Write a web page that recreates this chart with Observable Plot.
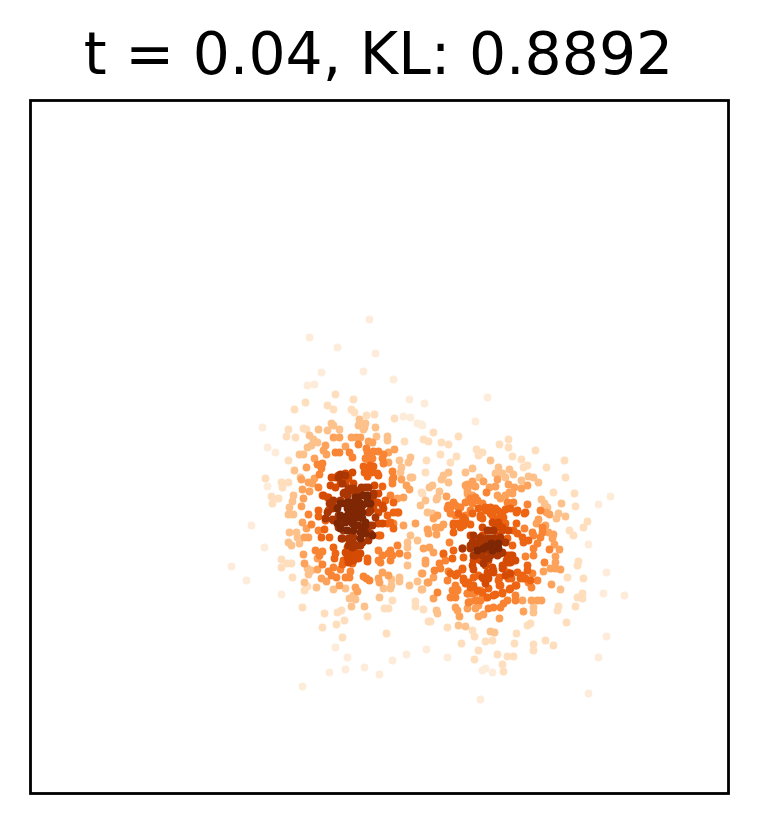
<!DOCTYPE html>
<html><head><meta charset="utf-8">
<script src="https://cdn.jsdelivr.net/npm/d3@7"></script>
<script src="https://cdn.jsdelivr.net/npm/@observablehq/plot@0.6"></script>
<style>html,body{margin:0;padding:0;background:#fff}</style>
</head><body><div id="chart"></div>
<script>
const titleText = "t = 0.04, KL: 0.8892";
const xDomain = [30, 728];
const yDomain = [793, 100];
const levelValues = [0.07, 0.17, 0.3, 0.42, 0.53, 0.64, 0.75, 0.87, 1];
const level1 = [[369,319],[309,337],[337,347],[375,353],[321,372],[363,371],[393,379],[307,385],[314,384],[409,399],[424,403],[403,416],[410,417],[417,423],[421,424],[262,427],[267,447],[275,452],[267,486],[251,525],[264,547],[231,566],[246,580],[281,594],[335,647],[347,657],[329,672],[345,669],[364,667],[379,674],[392,660],[406,654],[426,649],[302,686],[487,397],[475,421],[422,425],[610,496],[598,504],[588,544],[603,593],[624,595],[606,572],[606,636],[598,657],[588,693],[480,699],[447,657],[482,670],[485,668],[492,672]];
const level2 = [[335,394],[353,399],[305,402],[327,405],[333,409],[351,409],[354,412],[294,409],[394,418],[366,415],[374,414],[288,429],[303,428],[306,429],[286,436],[295,437],[404,441],[288,460],[426,460],[423,439],[428,441],[288,482],[281,482],[282,487],[265,478],[271,496],[278,498],[425,472],[421,492],[272,503],[281,559],[287,563],[291,563],[281,567],[292,577],[307,586],[304,590],[302,607],[415,601],[415,606],[423,609],[384,608],[388,608],[367,616],[344,620],[336,624],[337,612],[341,610],[324,613],[322,627],[342,637],[386,633],[428,621],[392,600],[433,432],[441,442],[448,444],[458,436],[499,444],[508,439],[508,447],[476,449],[482,452],[478,455],[535,450],[512,456],[521,459],[440,454],[456,456],[450,462],[564,460],[527,465],[523,467],[546,467],[565,477],[553,492],[574,493],[575,506],[587,521],[583,527],[569,530],[573,535],[422,493],[430,621],[566,622],[575,606],[577,597],[582,593],[582,598],[583,578],[578,561],[577,565],[557,610],[558,606],[545,640],[553,645],[533,644],[533,650],[514,643],[497,654],[507,656],[513,656],[502,664],[503,671],[492,640],[485,641],[461,643],[478,650],[474,659],[472,630],[474,636],[516,633],[527,625],[530,623],[567,577],[447,627]];
const level3 = [[359,419],[318,429],[327,430],[331,423],[333,425],[339,429],[309,435],[313,439],[317,442],[311,445],[307,447],[299,454],[303,454],[294,470],[300,477],[293,495],[358,425],[363,429],[365,423],[364,427],[375,427],[376,436],[387,436],[387,440],[399,460],[410,457],[408,462],[401,467],[400,472],[410,477],[412,477],[292,501],[289,507],[288,514],[293,514],[289,532],[296,532],[297,537],[288,542],[291,545],[299,543],[307,568],[311,570],[308,574],[304,582],[316,587],[333,589],[345,588],[349,598],[355,599],[353,595],[351,606],[364,606],[379,597],[383,588],[391,579],[391,585],[390,588],[399,577],[399,581],[409,585],[421,589],[417,581],[421,573],[407,565],[410,535],[407,542],[407,547],[417,540],[490,460],[498,467],[509,469],[472,468],[465,472],[448,472],[443,475],[441,479],[495,473],[502,473],[513,474],[505,477],[528,476],[533,477],[538,482],[521,480],[479,477],[448,482],[432,485],[429,487],[439,491],[437,497],[436,499],[425,500],[561,503],[541,499],[544,503],[547,507],[420,505],[432,513],[427,512],[558,513],[556,518],[565,516],[436,610],[437,613],[458,625],[465,626],[490,631],[494,632],[533,607],[533,612],[560,589],[422,589]];
const level4 = [[339,437],[333,437],[325,445],[323,450],[326,454],[314,458],[306,467],[301,479],[302,489],[308,482],[312,483],[314,478],[309,491],[303,498],[345,446],[351,437],[356,437],[360,437],[368,441],[372,442],[388,452],[394,449],[388,462],[401,479],[406,485],[409,489],[397,498],[403,497],[301,506],[302,522],[306,528],[304,537],[308,537],[303,554],[317,558],[317,569],[304,563],[321,578],[326,581],[339,585],[355,587],[357,591],[379,582],[378,578],[382,572],[388,575],[428,582],[407,555],[403,525],[415,523],[497,479],[483,481],[472,481],[475,486],[467,484],[495,486],[489,487],[508,484],[514,487],[527,485],[521,488],[467,490],[468,495],[509,492],[446,496],[497,495],[500,498],[505,495],[512,493],[433,518],[437,515],[549,514],[546,512],[538,519],[536,523],[545,525],[548,532],[553,534],[552,538],[443,524],[440,527],[427,529],[435,527],[428,533],[436,534],[554,544],[559,549],[423,548],[429,547],[433,552],[425,560],[425,563],[433,577],[427,582],[422,573],[433,598],[551,584],[560,569],[555,568],[550,568],[543,571],[555,556],[555,562],[522,600],[531,600],[537,600],[541,600],[523,611],[499,618],[483,614],[478,616],[477,600],[470,601],[478,605],[475,608],[467,608],[455,607],[457,610],[459,616],[465,485],[473,485],[467,493],[472,495]];
const level5 = [[318,487],[317,464],[322,463],[321,468],[319,474],[335,452],[339,452],[349,452],[352,457],[358,444],[366,448],[367,452],[373,451],[378,451],[383,454],[368,459],[372,458],[382,458],[383,463],[392,471],[393,477],[392,479],[392,483],[390,495],[308,514],[311,524],[318,530],[315,550],[322,551],[319,555],[322,564],[328,571],[333,567],[331,575],[336,577],[345,577],[349,577],[350,571],[340,569],[363,576],[366,578],[369,580],[378,550],[382,555],[378,560],[380,562],[390,550],[388,553],[397,545],[392,555],[390,560],[399,553],[393,523],[486,492],[470,498],[475,497],[472,503],[465,502],[453,502],[448,505],[458,507],[447,508],[450,513],[455,515],[507,502],[513,502],[527,504],[540,510],[470,510],[465,515],[462,518],[524,528],[532,532],[542,527],[542,532],[540,537],[533,535],[537,543],[449,542],[549,549],[533,548],[544,562],[533,555],[532,573],[537,580],[531,587],[528,582],[523,578],[515,595],[515,600],[507,600],[503,603],[500,607],[493,607],[488,608],[482,597],[480,590],[475,592],[467,593],[457,589],[453,595],[443,554],[445,560],[439,563],[434,570],[440,568],[448,571],[447,580],[437,592],[525,556],[365,458],[370,457],[455,585],[452,590],[457,590],[455,597],[450,597],[467,593],[472,593],[475,600],[468,602],[480,600],[485,597],[460,507],[450,507],[455,505],[477,500],[482,503],[472,502]];
const level6 = [[363,466],[368,467],[373,466],[364,472],[371,472],[367,476],[378,475],[382,486],[322,495],[327,497],[385,500],[393,502],[397,512],[390,522],[393,528],[378,535],[380,535],[387,523],[387,515],[393,512],[398,512],[318,510],[318,516],[325,520],[324,529],[321,537],[329,537],[333,547],[335,553],[334,558],[343,560],[342,564],[348,557],[355,557],[352,563],[367,558],[367,561],[485,507],[490,513],[497,510],[480,515],[482,518],[500,513],[505,509],[510,508],[516,512],[524,513],[516,523],[453,525],[458,523],[463,525],[453,532],[470,524],[505,523],[507,538],[513,530],[517,533],[522,537],[523,542],[528,540],[512,545],[453,550],[462,548],[463,557],[452,558],[443,553],[457,573],[462,569],[463,578],[468,582],[470,587],[488,588],[493,570],[499,577],[499,585],[509,589],[516,585],[502,592],[495,594],[487,597],[503,567],[507,572],[511,578],[517,572],[520,578],[527,565],[527,570],[473,577],[478,575],[370,465],[377,473],[372,470],[450,573],[455,575],[463,580],[465,583],[473,585],[477,590],[482,592],[462,568],[522,575],[525,578],[530,580],[498,580],[500,585],[508,578],[493,595],[502,593],[510,588],[515,585],[458,513],[463,517],[453,523],[460,527],[465,520],[472,513],[478,508],[485,510],[490,507],[495,508],[502,512],[517,510],[525,512],[492,515],[498,518],[503,517],[480,517]];
const level7 = [[352,472],[348,478],[331,477],[335,477],[353,483],[330,485],[335,487],[328,510],[330,503],[378,523],[383,508],[382,523],[374,485],[378,493],[345,552],[350,552],[355,552],[360,553],[347,547],[482,527],[492,522],[498,522],[495,528],[490,530],[502,527],[470,535],[473,538],[482,535],[497,535],[488,573],[472,565],[473,569],[483,578],[485,583],[506,560],[510,555],[515,560],[510,562],[358,490],[323,495],[328,497],[338,475],[345,473],[340,483],[345,483],[342,478],[372,498],[377,502],[382,505],[373,508],[378,512],[347,557],[352,558],[357,555],[348,562],[353,560],[358,558],[500,527],[502,530],[508,530],[507,555],[512,555],[508,562],[513,560],[502,568],[505,575],[510,573],[485,565],[492,567],[487,572],[482,577],[488,578],[493,572],[502,565],[473,560],[480,560],[488,560]];
const level8 = [[340,474],[345,475],[338,477],[342,483],[344,492],[348,488],[353,488],[361,487],[368,487],[373,493],[335,507],[338,515],[333,520],[340,523],[338,527],[343,530],[352,533],[357,493],[347,495],[370,510],[375,517],[373,495],[368,532],[341,538],[350,540],[353,543],[368,540],[352,547],[360,545],[369,525],[340,500],[333,500],[490,538],[475,545],[483,543],[492,542],[500,540],[483,563],[488,558],[480,553],[487,550],[492,547],[497,553],[485,558],[478,547],[470,545],[462,548],[470,547],[343,493],[347,495],[352,490],[355,495],[360,490],[365,487],[329,503],[332,508],[327,512],[325,518],[332,519],[368,512],[362,542],[348,545],[353,545],[358,545],[342,538],[348,538],[353,537],[370,533],[372,525],[473,535],[480,537],[487,538],[493,538],[500,537],[472,542],[477,543],[485,543],[505,542],[470,548],[475,555],[482,555],[490,555],[497,555],[502,552],[493,530],[487,530],[473,555],[500,553]];
const level9 = [[367,495],[358,497],[345,520],[350,510],[353,515],[360,503],[347,502],[365,522],[362,527],[367,500],[352,503],[358,513],[360,538],[363,530],[372,535],[358,505],[350,507],[363,495],[355,497],[370,503],[350,502],[355,503],[345,503],[340,503],[337,508],[347,508],[362,505],[367,503],[352,510],[357,510],[362,512],[355,515],[347,515],[340,515],[347,520],[353,520],[362,518],[340,517],[347,517],[353,517],[358,517],[337,523],[345,522],[352,523],[358,525],[365,525],[340,528],[347,530],[353,530],[360,532],[365,533],[477,550],[483,548],[492,550],[498,548],[491,543],[498,543],[486,546]];
const levels = [level1, level2, level3, level4, level5, level6, level7, level8, level9];
const points = levels.flatMap((pts, i) => pts.map(([x, y]) => ({x, y, v: levelValues[i]})));

const chart = Plot.plot({
  width: 757, height: 823,
  marginLeft: 30, marginRight: 29, marginTop: 100, marginBottom: 30,
  style: {background: "#fff", overflow: "visible"},
  x: {domain: xDomain, axis: null},
  y: {domain: yDomain, axis: null},
  color: {type: "linear", scheme: "Oranges", domain: [0, 1]},
  marks: [
    Plot.dot(points, {x: "x", y: "y", fill: "v", r: 3.9}),
    Plot.frame({stroke: "#000", strokeWidth: 2.8}),
    Plot.text([titleText], {frameAnchor: "top", dy: -27, dx: -1, fontSize: 58.4, fill: "#000", fontFamily: "DejaVu Sans", lineAnchor: "bottom", textAnchor: "middle"})
  ]
});
document.getElementById("chart").appendChild(chart);
</script></body></html>
